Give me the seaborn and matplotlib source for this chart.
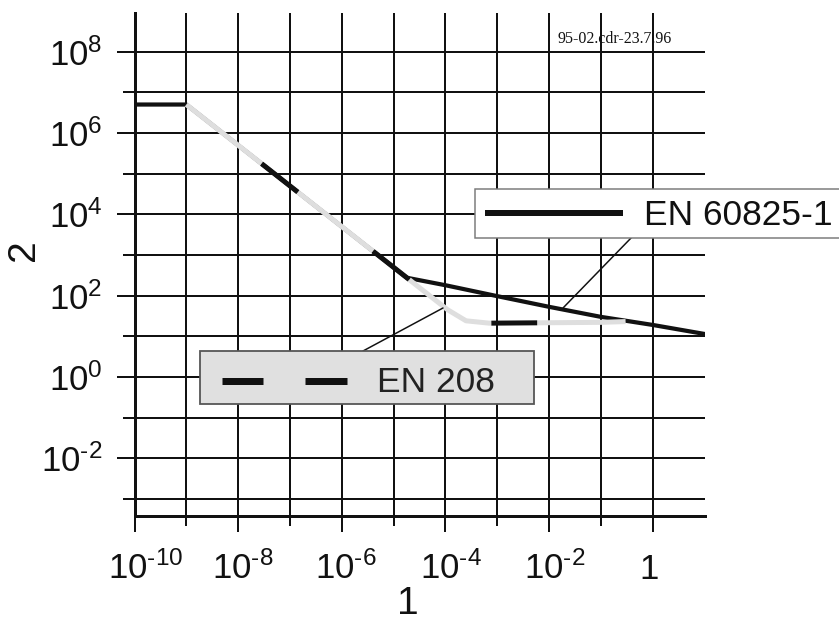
import matplotlib
matplotlib.use("Agg")
import matplotlib.pyplot as plt
import seaborn as sns
import pandas as pd
from matplotlib.patches import Rectangle
from matplotlib.lines import Line2D
from matplotlib.transforms import ScaledTranslation
from matplotlib.ticker import FixedLocator, FixedFormatter, NullFormatter

# ---------------- data ----------------
time_en60825 = [1e-10, 1e-9, 1.8e-5, 1e-4, 1e-3, 1e-2, 1e-1, 1.0, 10.0]
irr_en60825 = [5e6, 5e6, 275, 180, 97, 53, 30, 19, 11.4]

time_en208 = [1e-9, 1.1e-4, 2.5e-4, 7e-4, 1e-1, 0.3]
irr_en208 = [5e6, 45, 24, 21, 22, 23]

series_names = ["EN 60825-1", "EN 208"]

x_major_ticks = [1e-10, 1e-8, 1e-6, 1e-4, 1e-2, 1.0]
x_tick_labels = [r"$10^{\text{-}10}$", r"$10^{\text{-}8}$", r"$10^{\text{-}6}$",
                 r"$10^{\text{-}4}$", r"$10^{\text{-}2}$", r"$1$"]
x_minor_ticks = [1e-9, 1e-7, 1e-5, 1e-3, 1e-1]

y_major_ticks = [1e-2, 1.0, 1e2, 1e4, 1e6, 1e8]
y_tick_labels = [r"$10^{\text{-}2}$", r"$10^{0}$", r"$10^{2}$",
                 r"$10^{4}$", r"$10^{6}$", r"$10^{8}$"]
y_minor_ticks = [1e-3, 1e-1, 1e1, 1e3, 1e5, 1e7]

x_label = "1"
y_label = "2"
stamp_text = "95-02.cdr-23.7.96"

# ---------------- style ----------------
sns.set_theme(style="white")
plt.rcParams["font.family"] = ["Liberation Sans", "DejaVu Sans"]
plt.rcParams["mathtext.fontset"] = "custom"
plt.rcParams["mathtext.rm"] = "Liberation Sans"
plt.rcParams["mathtext.it"] = "Liberation Sans:italic"
plt.rcParams["mathtext.bf"] = "Liberation Sans:bold"
plt.rcParams["lines.scale_dashes"] = False

W, H = 839, 621
PX = 72 / 100.0  # points per pixel at dpi 100
INK = "#111111"

fig = plt.figure(figsize=(W / 100, H / 100), dpi=100)
fig.patch.set_facecolor("white")


def fx(x):
    return x / W


def fy(y):
    return 1 - y / H


ax_left, ax_right, ax_top, ax_bot = 134.5, 704.5, 13, 516
ax = fig.add_axes([fx(ax_left), fy(ax_bot), (ax_right - ax_left) / W, (ax_bot - ax_top) / H])
ax.set_xscale("log")
ax.set_yscale("log")
ax.set_facecolor("white")

df60825 = pd.DataFrame({"t": time_en60825, "E": irr_en60825})
df208 = pd.DataFrame({"t": time_en208, "E": irr_en208})

sns.lineplot(data=df60825, x="t", y="E", ax=ax, color=INK, lw=4.2 * PX,
             estimator=None, sort=False, zorder=3)
line60825 = ax.lines[-1]
line60825.set_solid_joinstyle("round")

sns.lineplot(data=df208, x="t", y="E", ax=ax, color=INK, lw=5 * PX,
             estimator=None, sort=False, zorder=4)
line208 = ax.lines[-1]
line208.set_linestyle((33, (33, 69)))
line208.set_gapcolor("#dedede")
line208.set_dash_capstyle("butt")
line208.set_dash_joinstyle("round")

ax.set_xlim(1e-10, 10 ** 1.0)
ax.set_ylim(10 ** -3.42, 10 ** 8.95)

# ticks
ax.xaxis.set_major_locator(FixedLocator(x_major_ticks))
ax.xaxis.set_major_formatter(FixedFormatter(x_tick_labels))
ax.xaxis.set_minor_locator(FixedLocator(x_minor_ticks))
ax.xaxis.set_minor_formatter(NullFormatter())
ax.yaxis.set_major_locator(FixedLocator(y_major_ticks))
ax.yaxis.set_major_formatter(FixedFormatter(y_tick_labels))
ax.yaxis.set_minor_locator(FixedLocator(y_minor_ticks))
ax.yaxis.set_minor_formatter(NullFormatter())

ax.tick_params(axis="x", which="both", bottom=True, top=False)
ax.tick_params(axis="y", which="both", left=True, right=False)
ax.tick_params(axis="x", which="major", direction="out", length=16 * PX, width=2 * PX,
               color=INK, labelsize=25, labelcolor=INK, pad=47 * PX)
ax.tick_params(axis="x", which="minor", direction="out", length=10 * PX, width=2 * PX, color=INK)
ax.tick_params(axis="y", which="major", direction="out", length=18 * PX, width=2 * PX,
               color=INK, labelsize=25, labelcolor=INK, pad=14 * PX)
ax.tick_params(axis="y", which="minor", direction="out", length=12 * PX, width=2 * PX, color=INK)

# small horizontal nudges of the x tick labels (pixels), as in the reference
x_label_nudge = [11, 5, 4, 6, 6, -4]
for lab, dx in zip(ax.get_xticklabels(), x_label_nudge):
    lab.set_va("baseline")
    lab.set_transform(lab.get_transform() + ScaledTranslation(dx / 100.0, 0, fig.dpi_scale_trans))

ax.grid(True, which="both", color=INK, lw=2 * PX)
ax.set_axisbelow(True)

for side in ("top", "right"):
    ax.spines[side].set_visible(False)
for side in ("left", "bottom"):
    ax.spines[side].set_linewidth(3 * PX)
    ax.spines[side].set_color(INK)

ax.set_xlabel(x_label, fontsize=28, color=INK)
ax.xaxis.set_label_coords((408 - ax_left) / (ax_right - ax_left), (ax_bot - 614) / (ax_bot - ax_top))
ax.xaxis.label.set_va("baseline")
ax.set_ylabel(y_label, fontsize=28, color=INK)
ax.yaxis.set_label_coords((24 - ax_left) / (ax_right - ax_left), (ax_bot - 250) / (ax_bot - ax_top))
ax.yaxis.label.set_va("center")

# ---------------- annotation boxes ----------------
# leader lines
fig.add_artist(Line2D([fx(632), fx(563)], [fy(237), fy(308)], transform=fig.transFigure,
                      color=INK, lw=1.5 * PX, zorder=5))
fig.add_artist(Line2D([fx(363), fx(443)], [fy(351), fy(308)], transform=fig.transFigure,
                      color=INK, lw=1.5 * PX, zorder=5))

# box for EN 60825-1
fig.add_artist(Rectangle((fx(475), fy(238)), fx(850) - fx(475), (238 - 189) / H,
                         transform=fig.transFigure, facecolor="white", edgecolor="#7a7a7a",
                         lw=1.5 * PX, zorder=6, clip_on=False))
fig.add_artist(Line2D([fx(485), fx(623)], [fy(213), fy(213)], transform=fig.transFigure,
                      color=INK, lw=6 * PX, solid_capstyle="butt", zorder=7))
fig.text(fx(644), fy(225), series_names[0], fontsize=25.5, color=INK,
         ha="left", va="baseline", zorder=7)

# box for EN 208
fig.add_artist(Rectangle((fx(200), fy(404)), fx(534) - fx(200), (404 - 351) / H,
                         transform=fig.transFigure, facecolor="#e0e0e0", edgecolor="#555555",
                         lw=1.8 * PX, zorder=6))
for x0, x1 in ((222, 263), (305, 347)):
    fig.add_artist(Line2D([fx(x0), fx(x1)], [fy(381), fy(381)], transform=fig.transFigure,
                          color=INK, lw=7 * PX, solid_capstyle="butt", zorder=7))
fig.text(fx(377), fy(391.5), series_names[1], fontsize=25.5, color="#222222",
         ha="left", va="baseline", zorder=7)

# drawing stamp
fig.text(fx(557), fy(43.3), stamp_text, fontsize=11.5, color=INK,
         family=["Liberation Serif", "DejaVu Serif"], ha="left", va="baseline", zorder=7)

fig.savefig("out.png", dpi=100, facecolor="white")
